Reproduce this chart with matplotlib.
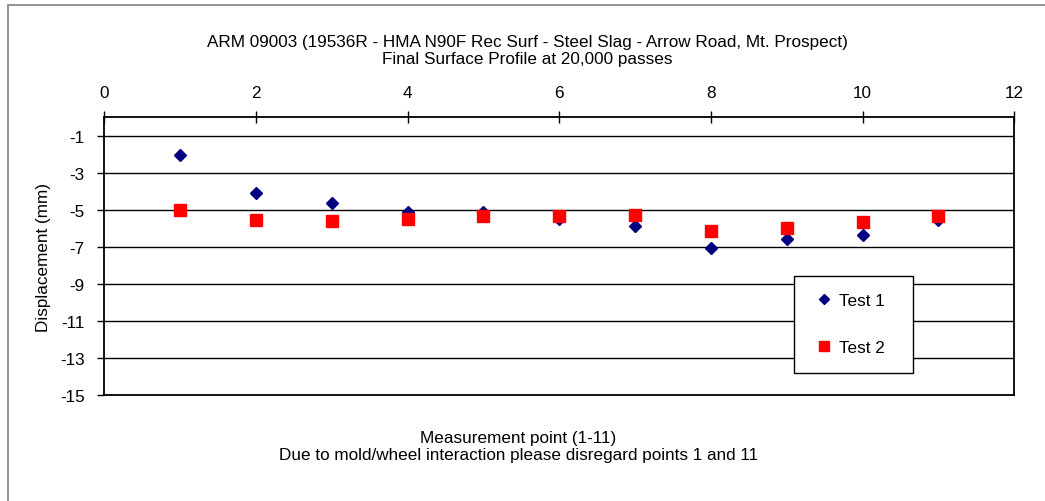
import matplotlib
matplotlib.use("Agg")
import matplotlib.pyplot as plt
from matplotlib.patches import Rectangle

plt.rcParams['font.family'] = ['Liberation Sans', 'DejaVu Sans']
plt.rcParams['axes.unicode_minus'] = False

# data
points = [1, 2, 3, 4, 5, 6, 7, 8, 9, 10, 11]
test1 = [-2.04, -4.1, -4.63, -5.1, -5.1, -5.5, -5.85, -7.05, -6.6, -6.34, -5.55]
test2 = [-5.0, -5.56, -5.58, -5.5, -5.34, -5.36, -5.3, -6.12, -5.96, -5.67, -5.34]
xticks = [0, 2, 4, 6, 8, 10, 12]
yticks = [-1, -3, -5, -7, -9, -11, -13, -15]

title = "ARM 09003 (19536R - HMA N90F Rec Surf - Steel Slag - Arrow Road, Mt. Prospect)\nFinal Surface Profile at 20,000 passes"
xlabel = "Measurement point (1-11)\nDue to mold/wheel interaction please disregard points 1 and 11"

FS = 12.3

fig = plt.figure(figsize=(10.45, 5.02), dpi=100)
ax = fig.add_axes([0.0998, 0.2112, 0.8708, 0.5533])

# gray border round the chart area
fig.patches.append(Rectangle((8 / 1045, -0.05), 1.1, 1 - 6 / 502 + 0.05,
                             transform=fig.transFigure, fill=False,
                             edgecolor='#808080', linewidth=1.2))

for y in yticks[:-1]:
    ax.axhline(y, color='black', linewidth=1.0, zorder=1)

ax.plot(points, test1, linestyle='none', marker='D', markersize=6.2,
        color='#000080', label='Test 1', zorder=3)
ax.plot(points, test2, linestyle='none', marker='s', markersize=9,
        color='#FF0000', label='Test 2', zorder=3)

ax.set_xlim(0, 12)
ax.set_ylim(-15, 0)
ax.set_xticks(xticks)
ax.set_yticks(yticks)
ax.xaxis.tick_top()
ax.tick_params(axis='x', direction='inout', length=9, width=1, pad=8,
               labelsize=FS, bottom=False, labelbottom=False)
ax.tick_params(axis='y', direction='out', length=5, width=1, pad=9,
               labelsize=FS)
for s in ax.spines.values():
    s.set_linewidth(1.3)

leg = ax.legend(loc='upper left', bbox_to_anchor=(0.758, 0.0887, 0.131, 0.340),
                mode='expand', borderaxespad=0, borderpad=1.0, labelspacing=1.9,
                handlelength=1.5, handletextpad=0.15, fancybox=False,
                edgecolor='black', framealpha=1, markerscale=0.8, fontsize=FS)
leg.get_frame().set_linewidth(1.0)

fig.text(0.505, 0.898, title, ha='center', va='center', fontsize=FS,
         linespacing=1.15)
fig.text(0.496, 0.1096, xlabel, ha='center', va='center', fontsize=FS,
         linespacing=1.15)
fig.text(0.042, 0.2112 + 0.5533 / 2, "Displacement (mm)", rotation=90,
         ha='center', va='center', fontsize=FS)

fig.savefig("out.png", dpi=100)
